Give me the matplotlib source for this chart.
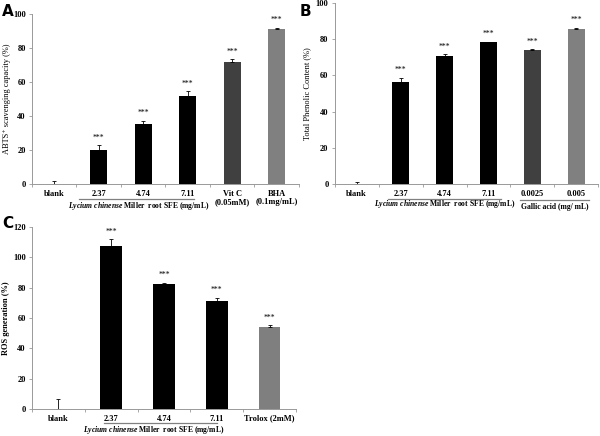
import matplotlib
matplotlib.use('Agg')
import matplotlib.pyplot as plt
import numpy as np

plt.rcParams['font.family'] = ['Liberation Serif', 'DejaVu Serif']
plt.rcParams['mathtext.fontset'] = 'custom'
plt.rcParams['mathtext.it'] = 'Liberation Serif:italic:bold'
plt.rcParams['mathtext.rm'] = 'Liberation Serif:bold'

# panel A
a_labels = ['blank', '2.37', '4.74', '7.11', 'Vit C\n(0.05mM)', 'BHA\n(0.1mg/mL)']
a_values = [0, 20, 35, 51.5, 71.8, 91.3]
a_err = [2, 3, 2.2, 3, 1.8, 0.6]
a_colors = ['black', 'black', 'black', 'black', '#404040', '#808080']

# panel B
b_labels = ['blank', '2.37', '4.74', '7.11', '0.0025', '0.005']
b_values = [0, 56.6, 70.5, 78.2, 74.2, 85.6]
b_err = [1, 2, 1.2, 0.5, 0.4, 0.8]
b_colors = ['black', 'black', 'black', 'black', '#404040', '#808080']

# panel C
c_labels = ['blank', '2.37', '4.74', '7.11', 'Trolox (2mM)']
c_values = [0, 107.5, 82.5, 71, 53.8]
c_err = [6.5, 4.5, 0.8, 2.5, 1.5]
c_colors = ['black', 'black', 'black', 'black', '#7f7f7f']

lycium = r'$\mathit{Lycium\ chinense}$ Miller  root SFE (mg/mL)'

fig = plt.figure(figsize=(6, 4.36), dpi=100)
axA = fig.add_axes([0.0533, 0.578, 0.445, 0.39])
axB = fig.add_axes([0.558, 0.578, 0.439, 0.415])
axC = fig.add_axes([0.0533, 0.062, 0.44, 0.417])


def draw(ax, labels, values, err, colors, ymax, ylabel, width):
    x = np.arange(len(labels))
    ax.bar(x, values, width=width, color=colors)
    lo = np.zeros(len(values))
    ax.errorbar(x, values, yerr=[lo, err], fmt='none', ecolor='black',
                elinewidth=0.6, capsize=1.5, capthick=0.6)
    for i in range(1, len(values)):
        ax.text(x[i], values[i] + err[i] + ymax * 0.02, '***', ha='center',
                va='bottom', fontsize=5.5)
    ax.set_xlim(-0.5, len(labels) - 0.5)
    ax.set_ylim(0, ymax)
    ax.set_yticks(np.arange(0, ymax + 1, 20))
    ax.set_xticks(x)
    ax.set_xticklabels(labels, fontsize=6, fontweight='bold', linespacing=1.1)
    ax.set_xticks(np.arange(-0.5, len(labels), 1), minor=True)
    ax.tick_params(axis='x', which='major', length=0, pad=4)
    ax.tick_params(axis='x', which='minor', length=2.5, color='#999999', width=0.6)
    ax.tick_params(axis='y', length=2.5, color='#999999', width=0.6, labelsize=6, pad=2)
    for t in ax.get_yticklabels():
        t.set_fontweight('bold')
    for s in ['top', 'right']:
        ax.spines[s].set_visible(False)
    for s in ['left', 'bottom']:
        ax.spines[s].set_color('#999999')
        ax.spines[s].set_linewidth(0.7)
    ax.set_ylabel(ylabel, fontsize=6)


draw(axA, a_labels, a_values, a_err, a_colors, 100, 'ABTS\u207a scavenging capacity (%)', 0.38)
draw(axB, b_labels, b_values, b_err, b_colors, 100, 'Total Phenolic Content (%)', 0.38)
draw(axC, c_labels, c_values, c_err, c_colors, 120, 'ROS generation (%)', 0.41)
axA.yaxis.set_label_coords(-0.08, 0.5)
axB.yaxis.set_label_coords(-0.09, 0.5)
axC.yaxis.set_label_coords(-0.085, 0.5)
axC.yaxis.label.set_fontweight('bold')


def underline(ax, x0, x1, y, text, ty, tx=None):
    tr = ax.get_xaxis_transform()
    ax.plot([x0, x1], [y, y], color='#808080', lw=0.9, transform=tr, clip_on=False)
    if tx is None:
        tx = (x0 + x1) / 2
    ax.text(tx, ty, text, transform=tr, ha='center', va='center',
            fontsize=5.5, fontweight='bold')


underline(axA, 0.55, 3.13, -0.088, lycium, -0.13, 1.9)
underline(axB, 0.72, 3.28, -0.083, lycium, -0.112)
underline(axB, 3.72, 5.28, -0.088, 'Gallic acid (mg/ mL)', -0.125)
underline(axC, 0.87, 3.0, -0.077, lycium, -0.118, 1.8)

fig.text(0.003, 0.99, 'A', fontsize=11, fontweight='bold', family='DejaVu Sans', va='top')
fig.text(0.5, 0.99, 'B', fontsize=11, fontweight='bold', family='DejaVu Sans', va='top')
fig.text(0.003, 0.505, 'C', fontsize=11, fontweight='bold', family='DejaVu Sans', va='top')

fig.savefig('out.png', dpi=100)
